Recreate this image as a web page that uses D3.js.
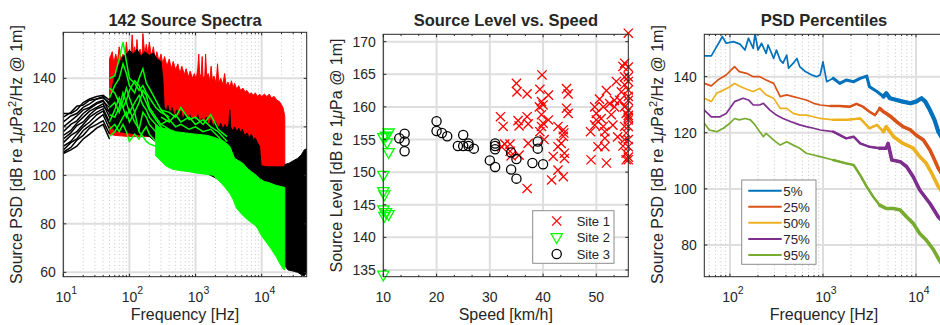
<!DOCTYPE html>
<html>
<head>
<meta charset="utf-8">
<script src="https://cdn.jsdelivr.net/npm/d3@7"></script>
<style>
  body { margin: 0; background: #fff; }
  text { font-family: "Liberation Sans", Arial, Helvetica, sans-serif; fill: #262626; }
</style>
</head>
<body>
<script>
const lowFreq = [10, 13, 16, 20, 25, 32, 40, 50];
const site3LowLines = [
  [125.5, 125.5, 127, 130, 131.5, 132.5, 133, 131],
  [124, 126, 128.5, 129, 131, 131.5, 132.5, 129],
  [122, 124.5, 125.5, 128, 129.5, 131.5, 132, 130],
  [120, 122.5, 124.5, 127, 128, 130, 131, 126],
  [118, 121, 122.5, 125.5, 127.5, 129.5, 130.5, 128],
  [116.5, 118.5, 121.5, 124, 126.5, 128, 129.5, 124],
  [115, 117.5, 120.5, 122, 125, 127.5, 128.5, 126],
  [113.5, 116.5, 118, 121, 124, 126, 127.5, 122],
  [112, 114, 117, 120, 122, 125, 126.5, 121],
  [110.5, 113.5, 115, 118.5, 120.5, 123, 125, 119],
  [109.5, 111.5, 114.5, 116.5, 119.5, 121, 122.5, 117],
  [109, 110.5, 112, 115, 117, 119.5, 121, 115]
];
const site1Upper = [[50,148],[55,151],[58,146],[62,150],[66,147],[70,153],[75,148],[80,150],[85,147],[90,155],[95,149],[100,152],[105,148],[110,158],[115,150],[120,153],[125,149],[130,156],[135,150],[145,152],[155,149],[160,158.5],[170,150],[180,154],[190,150],[200,155],[215,149],[230,153],[245,148],[260,151],[280,147],[300,150],[320,146],[340,149],[370,145],[400,148],[430,144],[460,147],[500,143.5],[540,146],[580,142],[620,145],[680,141.5],[720,144],[780,140.5],[830,143],[900,140],[960,142],[1020,139.5],[1080,144],[1120,150],[1160,140],[1220,142],[1260,149],[1300,140],[1380,141],[1420,150],[1480,140],[1550,142],[1650,139],[1720,145],[1800,139],[1900,141],[2050,138],[2150,146],[2250,138],[2400,140],[2600,137.5],[2750,142],[2900,137],[3100,138.5],[3300,136.5],[3500,139],[3700,136],[3900,138],[4200,135.5],[4500,137],[4800,135],[5200,136],[5600,134.5],[6000,135],[6500,133.5],[7000,134],[7500,133],[8000,134],[8700,132.5],[9300,133.5],[10000,132.5],[11000,133.5],[12000,132.5],[13000,133.5],[14000,132],[15500,132.5],[17000,131],[18500,130.5],[20000,129],[21000,128],[21800,126],[22400,124]];
const site1Lower = [[22400,103],[16000,103],[10000,103.5],[7000,104],[3000,108],[1000,112],[400,115],[200,116],[100,116],[60,116.5],[50,117]];
const site3Upper = [[50,131],[55,136],[60,141],[70,146],[80,149],[90,150],[100,151.5],[115,150],[130,152],[150,149],[170,151],[200,149.5],[230,150.5],[260,148],[300,147],[320,140],[335,128.5],[360,126],[380,129],[410,125],[440,128],[480,124.5],[520,127],[560,123.5],[600,126.5],[640,123],[700,125.5],[760,122.5],[820,125],[880,122],[950,124],[1000,122],[1080,125],[1150,121.5],[1250,123.5],[1350,121],[1450,124],[1550,120.5],[1700,123],[1850,120],[2000,122],[2200,119.5],[2400,121.5],[2600,119],[2800,121],[3000,119],[3200,121.5],[3300,127],[3400,120],[3600,118.5],[3900,120],[4200,118],[4500,119.5],[4800,117.5],[5100,119],[5500,116.5],[6000,117.5],[6500,115.5],[7000,117],[7500,114.5],[8000,115.5],[8600,113.5],[9300,112],[9800,104],[12000,103.5],[16000,103.5],[22000,103.5],[22600,104.5],[26000,105],[30000,106],[35000,107],[40000,108.5],[44000,110.5],[48000,111]];
const site3Lower = [[48000,60],[44000,58.5],[40000,59],[35000,60],[30000,60.5],[25000,61],[22000,63],[18000,67],[14000,71],[11700,74.5],[10000,76.5],[8300,79],[7000,83],[6000,86],[5000,88],[4000,92],[3000,95],[2000,99],[1000,103],[600,106],[400,110],[300,112],[200,116],[100,117.5],[70,118],[60,118.5],[50,121]];
const site2Upper = [[250,121],[300,119.5],[400,119],[500,118],[700,117.5],[1000,117],[1500,116.5],[2000,115.5],[2700,114],[3300,112],[3900,107],[4500,106],[5200,105],[6000,103],[7000,101.5],[8300,100],[9500,98.5],[11000,97.5],[13000,97],[16000,96],[19000,95.5],[22400,95]];
const site2Lower = [[22400,61],[21000,61.5],[18500,64],[16500,66.5],[14000,69.5],[11700,72.5],[10000,75],[8300,79],[7000,80.5],[5900,82],[4800,84.5],[4150,86.5],[3700,90],[3300,92.5],[2700,95.5],[2300,97.5],[1860,100],[1400,100.5],[1000,101],[800,101.5],[582,102],[450,102.5],[350,104],[300,106],[250,108]];
const site2Freq = [50, 60, 70, 80, 90, 100, 120, 140, 160, 180, 200, 250, 300, 350, 400];
const site2Lines = [
  [140, 141, 148, 155, 147, 140, 138, 135, 137, 134, 132, 128, 126, 125, 124],
  [132, 137, 140, 146, 142, 137, 134, 140, 144, 138, 136, 131, 127, 125, 123],
  [128, 130, 126, 131, 136, 132, 126, 130, 135, 133, 128, 124, 121, 120, 119],
  [122, 127, 132, 128, 124, 127, 122, 119, 126, 124, 121, 118, 117, 116, 115],
  [116, 118, 121, 124, 126, 122, 126, 118, 116, 114, 113, 112, 110, 109, 108],
  [136, 134, 130, 128, 131, 135, 139, 137, 133, 130, 127, 123, 120, 118, 117],
  [125, 124, 128, 134, 130, 126, 130, 133, 129, 127, 124, 121, 118, 117, 116],
  [119, 121, 118, 121, 118, 114, 117, 115, 118, 120, 117, 114, 112, 111, 110]
];
const site2MidFreq = [300, 400, 500, 600, 800, 1000, 1300, 1700, 2200, 3000];
const site2MidLines = [
  [127, 126, 124, 128, 123, 124, 121, 125, 119, 116],
  [124, 122, 125, 122, 124, 121, 123, 120, 118, 114],
  [121, 123, 120, 121, 119, 120, 118, 119, 116, 112]
];

// ---------- panel 2: source level vs speed
const site1Pts = [[32,158.5],[32.5,157],[32.8,154.3],[32.2,153.9],[33.8,154.3],[33.8,153.2],[34,152.5],[35,163.6],[35.1,162.3],[35.3,157.9],[35.5,157.1],[35.5,152.6],[37,162],[37,158.5],[37.2,157.4],[37.2,154.4],[37,147.5],
  [39.8,164.9],[39.4,162.7],[39.7,160.8],[40,160.3],[39.3,160],[39.7,158.8],[40,157.5],[39.7,157],[39.4,156.2],[41,161.8],[41,158],[40.2,155],
  [44.4,162.8],[44.7,162],[44.4,159.8],[44.7,159],[42.8,157],[43.8,156.5],[43.9,156],[43.8,155.5],[43.4,154.4],[42.8,153.9],[44,152.9],[44,152.1],[41.9,152.4],[42.8,150.3],[43.8,149.3],[41.6,148.8],
  [48.9,156.2],[49,151.9],[49.7,160],[50,159],[50,158],[49.7,157.2],[50.3,153.9],[50.6,161.2],[51.3,160],[50.9,158.2],[51.3,157],[51.6,156.2],[51.6,155.2],[51.6,153.9],[51.9,151.4],[51.9,162.5],[52.5,160.5],[52.8,158.8],[53.1,157.2],[53.4,161],[53.4,160],[53.75,163.9],[54,155.4],[54.4,161],[54.7,162.3],[55,166.2],[55.3,166.7],[55.3,164.6],[55.3,163.4],[55.3,160],[55.6,159],[55.3,157],[55.6,156],[55.3,155],[55,154],[55.6,152.9],[55.6,151.9],
  [56,171.3],[56,166.1],[56,164.6],[56,163.9],[56,162.6],[56,161.6],[56,161],[56,159.5],[56,158.7],[56,158.4],[56,158],[56,157],[56,155],[56,153.9],[56,152.3],[56,151.9]];
const site2Pts = [[10,155.3],[10.5,155.5],[11,156],[10.7,154.5],[11,153],[10,149.5],[10,147],[10.2,146.5],[10,144.2],[10.5,143.8],[11,143.5],[10.2,143.2],[10,134.2]];
const site3Pts = [[13,155.2],[14,155.9],[14,154.7],[14,153.2],[20,157.8],[20,156.3],[21,156],[22,155.5],[24,154],[25,155.7],[25,154],[26,154.4],[26,154],[27,153.6],[30,151.8],[31,154.4],[31,154],[31,153.5],[31,150.8],[34,153],[34,150.4],[35,152],[35,149],[38,151.4],[39,154.7],[39,153.6],[40,151.2]];
const siteNames = ['Site 1', 'Site 2', 'Site 3'];

// ---------- panel 3: PSD percentiles
const pctNames = ['5%', '25%', '50%', '75%', '95%'];
const pctColors = ['#0072BD', '#D95319', '#EDB120', '#7E2F8E', '#77AC30'];
const p5 = [[53,147.4],[63,147.4],[72,150.7],[83,154.3],[91,151.9],[109,152.5],[128,151.6],[145,149.5],[158,153.7],[178,150.1],[186,155.4],[200,149.5],[219,151.9],[245,148.3],[257,151.3],[295,146.5],[316,149.5],[347,145.9],[372,144.8],[407,147.7],[427,143],[479,144.8],[525,146.5],[562,143.6],[646,141.8],[759,140.6],[851,140],[933,140.6],[1000,145.3],[1096,138.2],[1288,139.4],[1514,137.6],[1778,138.8],[2138,138.2],[2512,139.4],[2951,140.2],[3162,136.4],[3802,134.7],[4467,132.9],[4786,134.1],[5248,132.3],[6166,131.7],[7244,131.1],[8710,130.5],[10000,131.1],[11482,132.3],[12589,131.1],[14125,128.1],[15849,124.5],[17378,120.4],[20000,117]];
const p25 = [[53,137.6],[63,136.7],[74,138.8],[91,140.6],[112,143.6],[126,141.8],[151,141.2],[178,140],[209,140],[245,138.8],[295,137.6],[347,132.9],[407,133.5],[479,132.9],[562,132.3],[661,131.7],[794,130.5],[933,129.9],[1202,129.5],[1514,129.5],[1950,129.3],[2291,130.3],[2692,129.3],[3162,127.5],[3631,126.3],[4074,128.7],[4467,127.5],[4786,126.9],[5248,126],[6166,124],[7244,122.2],[8710,121],[10000,119.2],[12023,117.4],[14125,113.9],[15849,110.3],[17378,107.3],[20000,104]];
const p50 = [[53,132.3],[63,131.1],[72,134.1],[85,135.2],[100,136.4],[112,137.6],[126,136.7],[151,135.5],[178,134.7],[209,135.8],[245,133.5],[295,132.3],[347,128.7],[407,128.7],[479,126.9],[562,126.3],[661,126.3],[794,125.7],[933,125.1],[1288,124.6],[1778,124.6],[2512,125.1],[3162,121.6],[3802,122.8],[4467,120.4],[4786,122.2],[5754,118.6],[7244,116.2],[9333,114.5],[10965,111.5],[12882,109.1],[14791,105.5],[17378,100.8],[20000,98]];
const p75 = [[53,128.1],[63,125.7],[78,125.7],[91,126.9],[112,131.1],[138,132.3],[158,131.7],[178,129.9],[209,129.9],[229,130.5],[269,128.1],[316,126.3],[372,125.1],[447,124],[562,122.8],[661,122.2],[794,121.6],[933,121],[1288,120.4],[1778,118],[2138,118.6],[2512,116.2],[3162,115],[4074,114.5],[4786,114.5],[5012,116.2],[5495,110.3],[6761,109.7],[7943,107.9],[9333,104.3],[10965,99.6],[14125,94.8],[17378,90],[20000,88]];
const p95 = [[53,123.4],[60,121],[72,120.4],[85,121.6],[100,123.4],[112,125.1],[126,124.6],[145,125.1],[166,124.6],[186,122.8],[209,120.4],[229,118.6],[245,119.8],[295,117.4],[347,115.6],[407,116.8],[479,115.6],[562,114.5],[661,112.7],[933,111.5],[1288,110.3],[1778,109.1],[2138,108.5],[2512,104.9],[2951,100.8],[3467,97.2],[4074,94.2],[4786,93],[5754,93],[6761,92.5],[7943,90],[9333,87.7],[10965,84.1],[12882,81.8],[15488,78.2],[17378,75.2],[20000,72]];

const width = 940, height = 325;
const svg = d3.select('body').append('svg').attr('width', width).attr('height', height);

function logMinor(d0, d1) {
  const out = [];
  for (let e = Math.floor(Math.log10(d0)); e <= Math.ceil(Math.log10(d1)); e++)
    for (let k = 2; k <= 9; k++) {
      const v = k * Math.pow(10, e);
      if (v > d0 && v < d1) out.push(v);
    }
  return out;
}

// grid under the data
function grid(g, x, y, xMajor, yMajor, xMinor) {
  const [xl, xr] = x.range(), [yb, yt] = y.range();
  if (xMinor) g.append('g').selectAll('line').data(xMinor).join('line')
    .attr('x1', d => x(d)).attr('x2', d => x(d)).attr('y1', yb).attr('y2', yt)
    .attr('stroke', '#c4c4c4').attr('stroke-width', 1).attr('stroke-dasharray', '1,2.6');
  g.append('g').selectAll('line').data(xMajor).join('line')
    .attr('x1', d => x(d)).attr('x2', d => x(d)).attr('y1', yb).attr('y2', yt)
    .attr('stroke', '#dedede').attr('stroke-width', 2);
  g.append('g').selectAll('line').data(yMajor).join('line')
    .attr('x1', xl).attr('x2', xr).attr('y1', d => y(d)).attr('y2', d => y(d))
    .attr('stroke', '#dedede').attr('stroke-width', 2);
}

// box, inward ticks and tick labels on top
function frame(g, x, y, xMajor, yMajor, xMinor, xFmt) {
  const [xl, xr] = x.range(), [yb, yt] = y.range();
  const tl = 3, tm = 1.8;
  g.append('rect').attr('x', xl).attr('y', yt).attr('width', xr - xl).attr('height', yb - yt)
    .attr('fill', 'none').attr('stroke', '#262626').attr('stroke-width', 1);
  const t = g.append('g').attr('stroke', '#262626').attr('stroke-width', 1);
  xMajor.forEach(v => {
    t.append('line').attr('x1', x(v)).attr('x2', x(v)).attr('y1', yb).attr('y2', yb - tl);
    t.append('line').attr('x1', x(v)).attr('x2', x(v)).attr('y1', yt).attr('y2', yt + tl);
  });
  (xMinor || []).forEach(v => {
    t.append('line').attr('x1', x(v)).attr('x2', x(v)).attr('y1', yb).attr('y2', yb - tm);
    t.append('line').attr('x1', x(v)).attr('x2', x(v)).attr('y1', yt).attr('y2', yt + tm);
  });
  yMajor.forEach(v => {
    t.append('line').attr('x1', xl).attr('x2', xl + tl).attr('y1', y(v)).attr('y2', y(v));
    t.append('line').attr('x1', xr).attr('x2', xr - tl).attr('y1', y(v)).attr('y2', y(v));
  });
  g.append('g').selectAll('text').data(yMajor).join('text')
    .attr('x', xl - 7.5).attr('y', d => y(d) + 5).attr('text-anchor', 'end')
    .attr('font-size', 14).text(d => d);
  const xt = g.append('g').selectAll('text').data(xMajor).join('text')
    .attr('x', d => x(d)).attr('y', 301.5).attr('text-anchor', 'middle').attr('font-size', 14);
  if (xFmt === 'pow') {
    xt.each(function (d) {
      const s = d3.select(this);
      s.append('tspan').text('10');
      s.append('tspan').attr('dy', -8).attr('font-size', 10.5).text(Math.round(Math.log10(d)));
    }).attr('dx', 3);
  } else xt.text(d => d);
}

function titles(g, cx, cy, lx, title, xlabel, ylabelParts) {
  g.append('text').attr('x', cx).attr('y', 26).attr('text-anchor', 'middle')
    .attr('font-size', 16.5).attr('font-weight', 'bold').text(title);
  g.append('text').attr('x', cx).attr('y', 320).attr('text-anchor', 'middle')
    .attr('font-size', 16).text(xlabel);
  const yl = g.append('text').attr('transform', `translate(${lx},${cy}) rotate(-90)`)
    .attr('text-anchor', 'middle').attr('font-size', 16);
  ylabelParts.forEach(p => {
    const ts = yl.append('tspan').text(p.t);
    if (p.it) ts.attr('font-style', 'italic');
    if (p.sup) ts.attr('dy', -6).attr('font-size', 11);
    if (p.down) ts.attr('dy', 6);
  });
}

const psdLabel = [{t: 'Source PSD [dB re 1'}, {t: 'μ', it: true}, {t: 'Pa'}, {t: '2', sup: true}, {t: '/Hz @ 1m]', down: true}];

// =============== panel 1
{
  const g = svg.append('g');
  const x = d3.scaleLog().domain([10, 48000]).range([63.3, 306.7]);
  const y = d3.scaleLinear().domain([58.2, 159]).range([276.7, 32.3]);
  const xMaj = [10, 100, 1000, 10000], yMaj = [60, 80, 100, 120, 140];
  const xMin = logMinor(10, 48000);
  grid(g, x, y, xMaj, yMaj, xMin);
  g.append('clipPath').attr('id', 'c1').append('rect')
    .attr('x', 63.3).attr('y', 32.3).attr('width', 306.7 - 63.3).attr('height', 276.7 - 32.3);
  const d = g.append('g').attr('clip-path', 'url(#c1)');
  const poly = d3.line().x(p => x(p[0])).y(p => y(p[1]));
  d.append('path').attr('d', poly(site1Upper.concat(site1Lower)) + 'Z').attr('fill', '#ff0000').attr('stroke', '#ff0000').attr('stroke-width', 1);
  d.append('path').attr('d', poly(site3Upper.concat(site3Lower)) + 'Z').attr('fill', '#000').attr('stroke', '#000').attr('stroke-width', 1);
  const lowLine = d3.line().x((v, i) => x(lowFreq[i])).y(v => y(v));
  d.append('g').selectAll('path').data(site3LowLines).join('path')
    .attr('d', lowLine).attr('fill', 'none').attr('stroke', '#000').attr('stroke-width', 1.5);
  d.append('path').attr('d', poly(site2Upper.concat(site2Lower)) + 'Z').attr('fill', '#00ff00').attr('stroke', '#00ff00').attr('stroke-width', 1);
  const gLine = d3.line().x((v, i) => x(site2Freq[i])).y(v => y(v));
  d.append('g').selectAll('path').data(site2Lines).join('path')
    .attr('d', gLine).attr('fill', 'none').attr('stroke', '#00ff00').attr('stroke-width', 1.5);
  const gMid = d3.line().x((v, i) => x(site2MidFreq[i])).y(v => y(v));
  d.append('g').selectAll('path').data(site2MidLines).join('path')
    .attr('d', gMid).attr('fill', 'none').attr('stroke', '#00ff00').attr('stroke-width', 1.5);
  frame(g, x, y, xMaj, yMaj, xMin, 'pow');
  titles(g, 185, 154.5, 22, '142 Source Spectra', 'Frequency [Hz]', psdLabel);
}

// =============== panel 2
{
  const g = svg.append('g');
  const x = d3.scaleLinear().domain([10, 56]).range([383.3, 628.3]);
  const y = d3.scaleLinear().domain([133.97, 171.13]).range([276.7, 34.3]);
  const xMaj = [10, 20, 30, 40, 50], yMaj = [135, 140, 145, 150, 155, 160, 165, 170];
  const xMin = d3.range(10, 56, 10 / 3).filter(v => Math.abs(v % 10) > 0.1 && Math.abs(v % 10 - 10) > 0.1);
  grid(g, x, y, xMaj, yMaj, null);
  const xMark = 'M-4.6,-4.6L4.6,4.6M-4.6,4.6L4.6,-4.6';
  const triMark = 'M-5.6,-4L5.6,-4L0,5.8Z';
  g.append('g').selectAll('path').data(site1Pts).join('path')
    .attr('transform', p => `translate(${x(p[0])},${y(p[1])})`).attr('d', xMark)
    .attr('stroke', '#ff0000').attr('stroke-width', 1.3).attr('fill', 'none');
  g.append('g').selectAll('path').data(site2Pts).join('path')
    .attr('transform', p => `translate(${x(p[0])},${y(p[1])})`).attr('d', triMark)
    .attr('stroke', '#00ff00').attr('stroke-width', 1.3).attr('fill', 'none');
  g.append('g').selectAll('circle').data(site3Pts).join('circle')
    .attr('cx', p => x(p[0])).attr('cy', p => y(p[1])).attr('r', 4.6)
    .attr('stroke', '#000').attr('stroke-width', 1.3).attr('fill', 'none');
  frame(g, x, y, xMaj, yMaj, xMin, 'lin');
  titles(g, 505.8, 155.5, 342, 'Source Level vs. Speed', 'Speed [km/h]',
    [{t: 'Source Level [dB re 1'}, {t: 'μ', it: true}, {t: 'Pa @ 1m]'}]);
  // legend
  const lg = g.append('g');
  lg.append('rect').attr('x', 532.7).attr('y', 210.7).attr('width', 81.3).attr('height', 52.6)
    .attr('fill', '#fff').attr('stroke', '#8c8c8c').attr('stroke-width', 1);
  const rows = [221, 237.7, 254];
  lg.append('path').attr('transform', `translate(556.7,${rows[0]})`).attr('d', xMark)
    .attr('stroke', '#ff0000').attr('stroke-width', 1.3);
  lg.append('path').attr('transform', `translate(556.7,${rows[1]})`).attr('d', triMark)
    .attr('stroke', '#00ff00').attr('stroke-width', 1.3).attr('fill', 'none');
  lg.append('circle').attr('cx', 556.7).attr('cy', rows[2]).attr('r', 4.6)
    .attr('stroke', '#000').attr('stroke-width', 1.3).attr('fill', 'none');
  lg.selectAll('text.l').data(siteNames).join('text').attr('class', 'l')
    .attr('x', 576.7).attr('y', (d, i) => rows[i] + 4.6).attr('font-size', 13).text(d => d);
}

// =============== panel 3
{
  const g = svg.append('g');
  const x = d3.scaleLog().domain([53, 20000]).range([704.3, 944]);
  const y = d3.scaleLinear().domain([68.7, 155.1]).range([276.7, 34.3]);
  const xMaj = [100, 1000, 10000], yMaj = [80, 100, 120, 140];
  const xMin = logMinor(53, 20000);
  grid(g, x, y, xMaj, yMaj, xMin);
  g.append('clipPath').attr('id', 'c3').append('rect')
    .attr('x', 704.3).attr('y', 34.3).attr('width', 944 - 704.3).attr('height', 276.7 - 34.3);
  const line = d3.line().x(p => x(p[0])).y(p => y(p[1]));
  const series = [p5, p25, p50, p75, p95];
  const dg = g.append('g').attr('clip-path', 'url(#c3)');
  // the measured lines get denser and noisier with frequency, so higher stretches are drawn thicker
  [[4000, 3.6], [1200, 2.5], [0, 1.7]].forEach(([f0, w]) => {
    dg.append('g').selectAll('path').data(series).join('path')
      .attr('d', s => line(s.filter(p => p[0] >= f0))).attr('fill', 'none')
      .attr('stroke', (d, i) => pctColors[i]).attr('stroke-width', (d, i) => i === 0 && f0 > 0 ? w + 0.6 : w)
      .attr('stroke-linejoin', 'round').attr('stroke-linecap', 'round');
  });
  frame(g, x, y, xMaj, yMaj, xMin, 'pow');
  titles(g, 824, 154.5, 663, 'PSD Percentiles', 'Frequency [Hz]', psdLabel);
  const lg = g.append('g');
  lg.append('rect').attr('x', 741.7).attr('y', 180).attr('width', 74.3).attr('height', 84.3)
    .attr('fill', '#fff').attr('stroke', '#8c8c8c').attr('stroke-width', 1);
  const rows = [190.7, 206.7, 222.7, 239, 255];
  lg.selectAll('line').data(pctNames).join('line')
    .attr('x1', 748.3).attr('x2', 781.7).attr('y1', (d, i) => rows[i]).attr('y2', (d, i) => rows[i])
    .attr('stroke', (d, i) => pctColors[i]).attr('stroke-width', 2);
  lg.selectAll('text').data(pctNames).join('text')
    .attr('x', 783.3).attr('y', (d, i) => rows[i] + 4.8).attr('font-size', 13.3).text(d => d);
}
</script>
</body>
</html>
